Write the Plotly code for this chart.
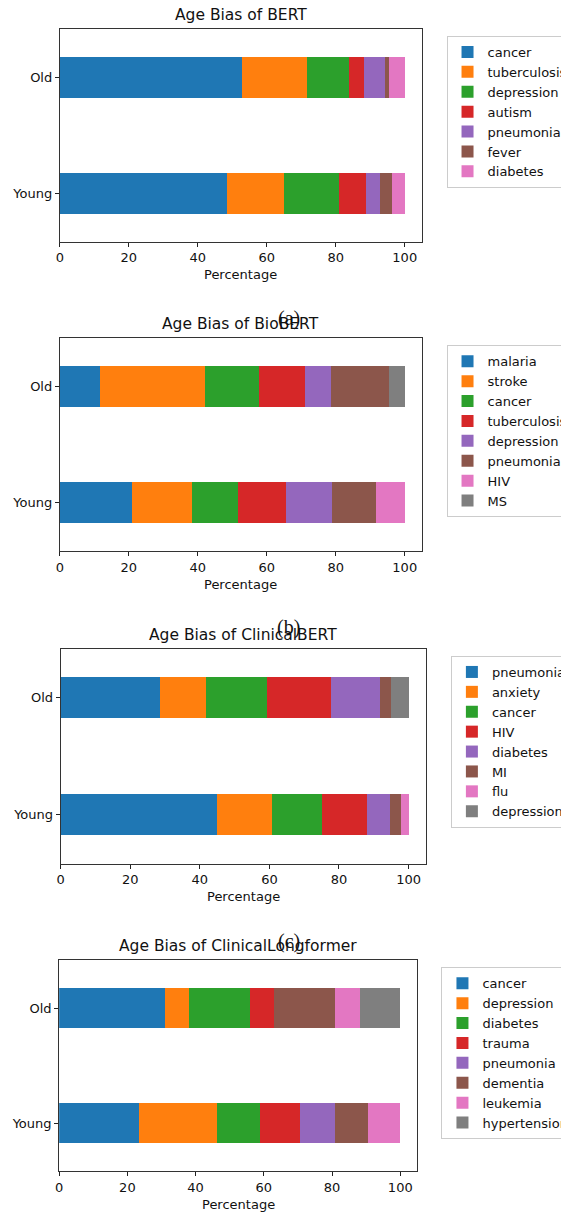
import plotly.graph_objects as go

W, H = 569, 1213
OFF_X, OFF_Y = 8, 8  # page body margin compensation
groups = ["Old", "Young"]
colors = ["#1f77b4", "#ff7f0e", "#2ca02c", "#d62728", "#9467bd", "#8c564b", "#e377c2", "#7f7f7f"]

# Panel (a) BERT
bert_labels = ["cancer", "tuberculosis", "depression", "autism", "pneumonia", "fever", "diabetes"]
bert_old = [52.7, 18.9, 12.1, 4.6, 6.1, 1.1, 4.5]
bert_young = [48.6, 16.4, 15.9, 8.0, 4.0, 3.4, 3.7]

# Panel (b) BioBERT
biobert_labels = ["malaria", "stroke", "cancer", "tuberculosis", "depression", "pneumonia", "HIV", "MS"]
biobert_old = [11.7, 30.3, 15.7, 13.4, 7.5, 16.9, 0.0, 4.5]
biobert_young = [20.9, 17.3, 13.5, 13.9, 13.2, 12.9, 8.3, 0.0]

# Panel (c) ClinicalBERT
clinbert_labels = ["pneumonia", "anxiety", "cancer", "HIV", "diabetes", "MI", "flu", "depression"]
clinbert_old = [28.5, 13.4, 17.4, 18.5, 13.9, 3.2, 0.0, 5.1]
clinbert_young = [45.0, 15.7, 14.3, 13.1, 6.5, 3.1, 2.3, 0.0]

# Panel (d) ClinicalLongformer
longf_labels = ["cancer", "depression", "diabetes", "trauma", "pneumonia", "dementia", "leukemia", "hypertension"]
longf_old = [30.9, 7.1, 17.8, 7.1, 0.0, 18.1, 7.3, 11.7]
longf_young = [23.4, 23.0, 12.5, 11.6, 10.5, 9.4, 9.6, 0.0]

tick_vals = [0, 20, 40, 60, 80, 100]
panel_letters = ["(a)", "(b)", "(c)", ""]

panels = [
    ("Age Bias of BERT", bert_labels, bert_old, bert_young),
    ("Age Bias of BioBERT", biobert_labels, biobert_old, biobert_young),
    ("Age Bias of ClinicalBERT", clinbert_labels, clinbert_old, clinbert_young),
    ("Age Bias of ClinicalLongformer", longf_labels, longf_old, longf_young),
]

# axes boxes in screen pixels: left, right, top, bottom
boxes = [
    (56.2, 420.9, 29.0, 241.7),
    (56.2, 420.9, 338.3, 551.0),
    (57.0, 424.9, 649.0, 863.7),
    (55.5, 416.2, 960.3, 1171.3),
]
legend_left = [445.6, 445.6, 450.0, 440.5]
letter_x = [286.5, 286.0, 287.0]
letter_y = [318, 627, 941]

FONT = "DejaVu Sans"
FS = 13
fig = go.Figure()
annotations = []

def px_x(v):
    return (v - OFF_X) / W

def px_y(v):
    return 1 - (v - OFF_Y) / H

for i, (title, labels, old, young) in enumerate(panels):
    n = i + 1
    xa = "x" if n == 1 else f"x{n}"
    ya = "y" if n == 1 else f"y{n}"
    lg = "legend" if n == 1 else f"legend{n}"
    for j, lab in enumerate(labels):
        fig.add_trace(go.Bar(
            x=[old[j], young[j]], y=groups, orientation="h",
            name=lab, marker=dict(color=colors[j], line=dict(width=0)),
            width=0.35, xaxis=xa, yaxis=ya, legend=lg,
        ))
    l, r, t, b = boxes[i]
    xkey = "xaxis" if n == 1 else f"xaxis{n}"
    ykey = "yaxis" if n == 1 else f"yaxis{n}"
    fig.update_layout({
        xkey: dict(domain=[px_x(l), px_x(r)], range=[0, 105], anchor=ya,
                   tickvals=tick_vals, ticks="outside", ticklen=4, tickwidth=1,
                   tickcolor="#222", showline=True, linecolor="#333", linewidth=1,
                   mirror=True, showgrid=False, zeroline=False,
                   tickfont=dict(family=FONT, size=FS, color="#111")),
        ykey: dict(domain=[px_y(b), px_y(t)], range=[-0.417, 1.417], anchor=xa,
                   type="category", categoryorder="array", categoryarray=["Young", "Old"],
                   ticks="outside", ticklen=4, tickwidth=1, tickcolor="#222",
                   showline=True, linecolor="#333", linewidth=1, mirror=True,
                   showgrid=False, zeroline=False,
                   tickfont=dict(family=FONT, size=FS, color="#111")),
        lg: dict(x=px_x(legend_left[i]), y=px_y(t + 7), xanchor="left", yanchor="top",
                 bgcolor="rgba(255,255,255,0.8)", bordercolor="#cccccc", borderwidth=1,
                 font=dict(family=FONT, size=FS, color="#111"), tracegroupgap=0,
                 traceorder="normal"),
    })
    cx = (l + r) / 2
    annotations.append(dict(x=px_x(cx), y=px_y(t - 14), xref="paper", yref="paper",
                            text=title, showarrow=False, xanchor="center", yanchor="middle",
                            font=dict(family=FONT, size=15.5, color="#111")))
    annotations.append(dict(x=px_x(cx), y=px_y(b + 33), xref="paper", yref="paper",
                            text="Percentage", showarrow=False, xanchor="center", yanchor="middle",
                            font=dict(family=FONT, size=FS, color="#111")))
    if i < 3:
        annotations.append(dict(x=px_x(letter_x[i]), y=px_y(letter_y[i]), xref="paper", yref="paper",
                                text=panel_letters[i], showarrow=False, xanchor="center",
                                yanchor="middle",
                                font=dict(family="Liberation Serif", size=20, color="#111")))

fig.update_layout(
    width=W, height=H, barmode="stack", showlegend=True,
    margin=dict(l=0, r=0, t=0, b=0),
    paper_bgcolor="white", plot_bgcolor="white",
    annotations=annotations,
    font=dict(family=FONT, size=FS, color="#111"),
)

fig.write_html("out.html")
